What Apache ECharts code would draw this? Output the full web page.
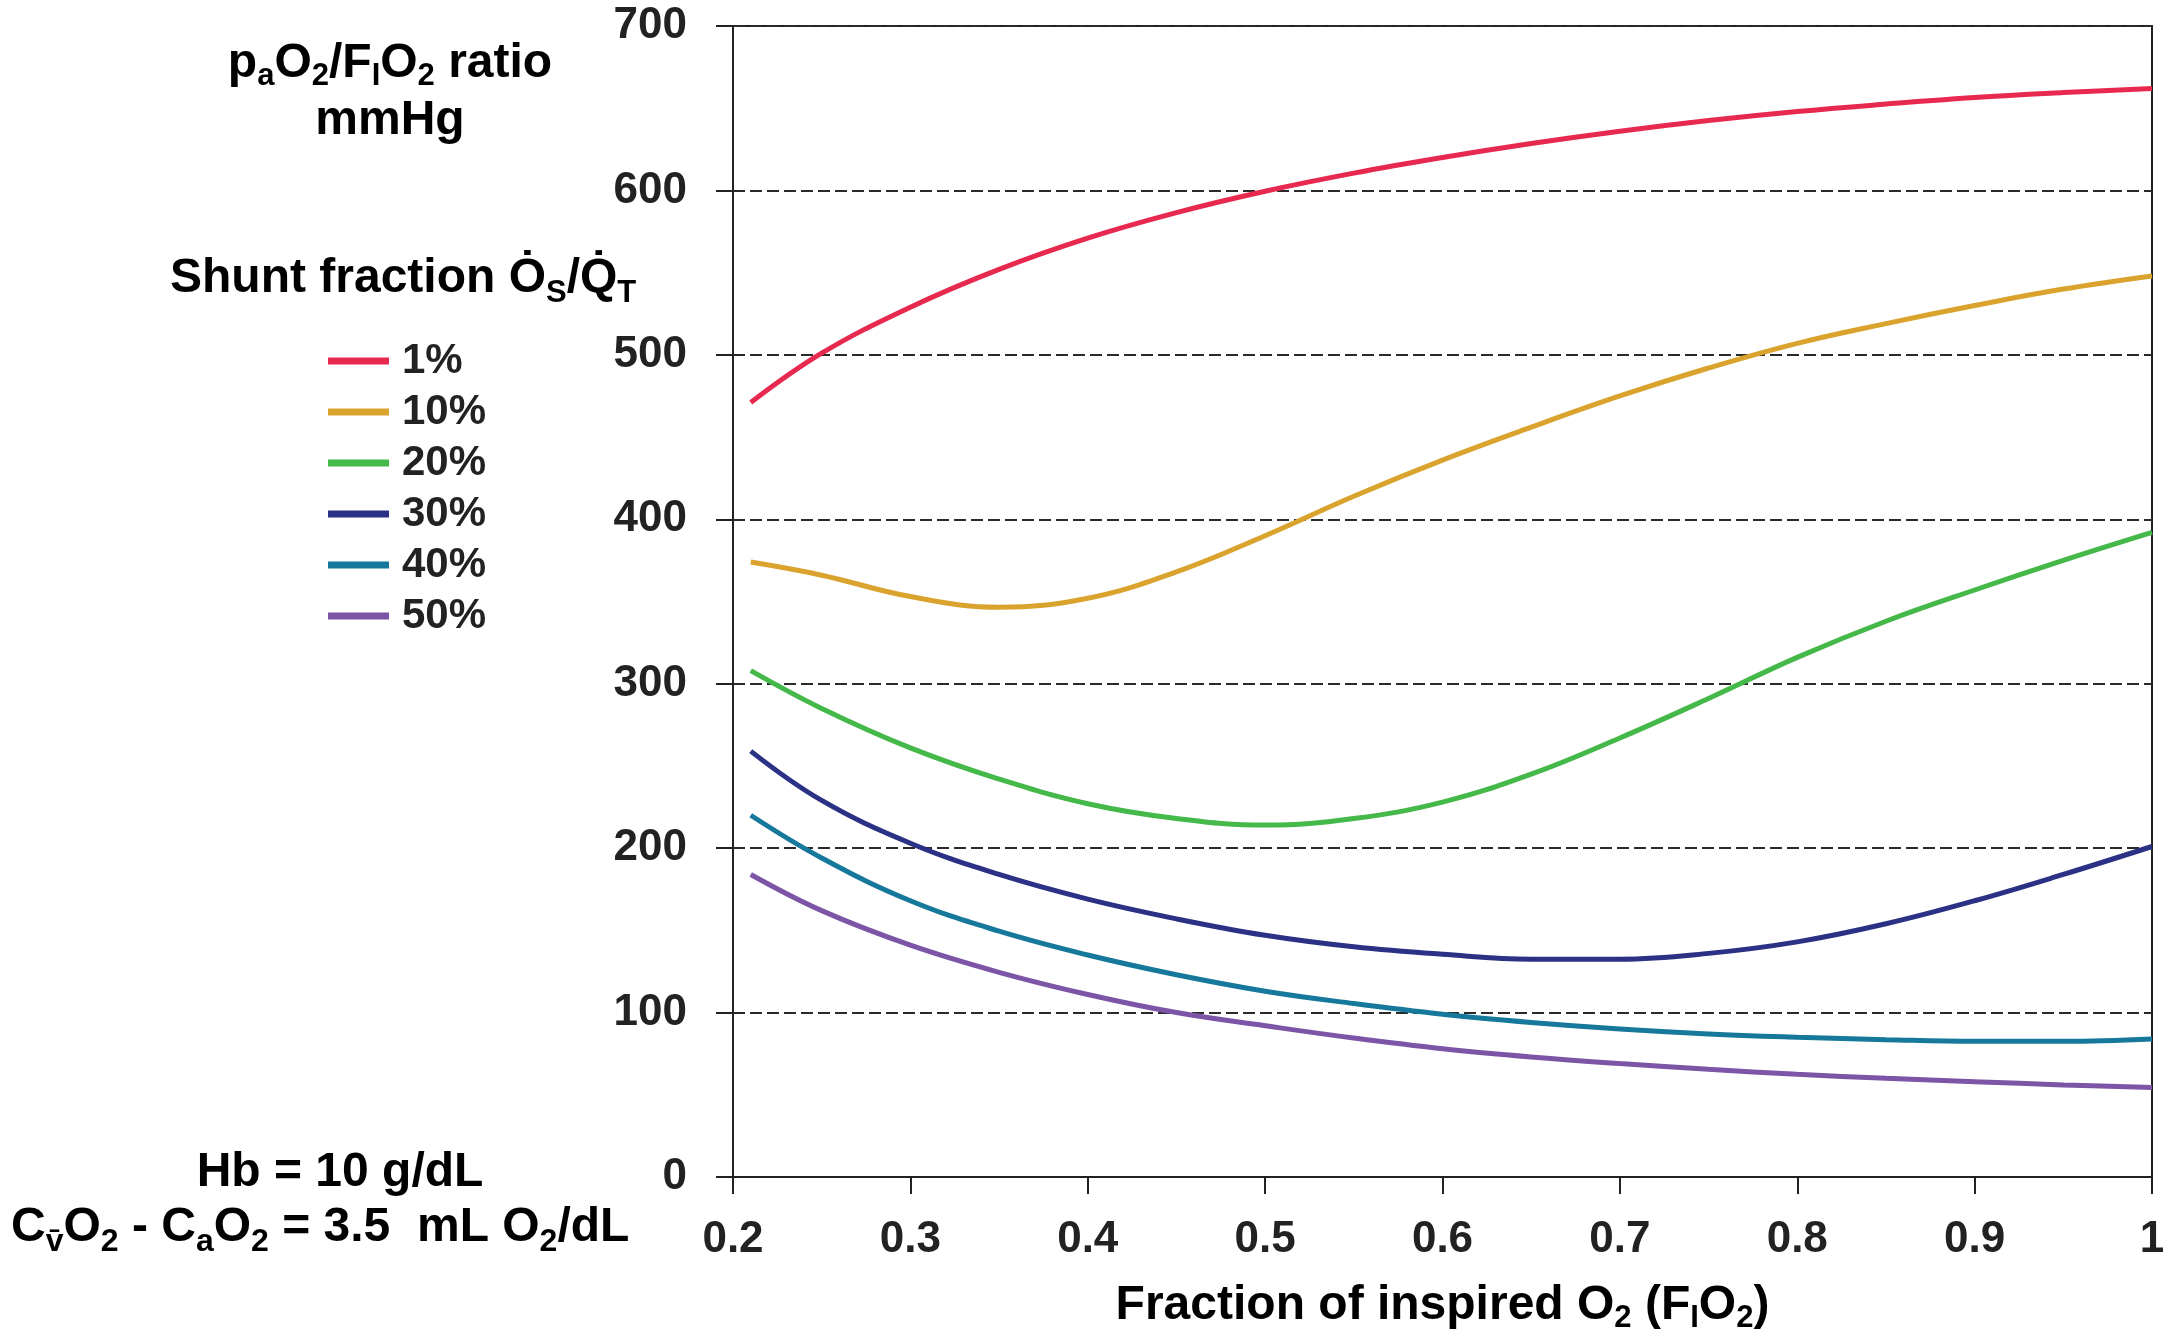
<!DOCTYPE html>
<html>
<head>
<meta charset="utf-8">
<title>PaO2/FIO2 ratio vs FIO2</title>
<script src="https://cdn.jsdelivr.net/npm/echarts@6/dist/echarts.min.js"></script>
<style>
  html, body { margin: 0; padding: 0; background: #fff; }
  #chart { width: 2164px; height: 1333px; }
</style>
</head>
<body>
<div id="chart"></div>
<script>
// FIO2 (x) and PaO2/FIO2 ratio (mmHg) per shunt fraction
const fio2 = [0.21, 0.25, 0.3, 0.35, 0.4, 0.45, 0.5, 0.55, 0.6, 0.65, 0.7, 0.75, 0.8, 0.85, 0.9, 0.95, 1.0]
const shunt1 = [471, 501, 529, 552, 571, 586.5, 599.5, 610.5, 620, 628.5, 636, 642.5, 648, 652.5, 656.5, 659.5, 662]
const shunt10 = [374, 366, 353, 346.5, 352, 368, 390, 414, 436, 456, 475, 492, 507, 519, 530, 540, 548]
const shunt20 = [308, 285, 261, 242, 227, 218, 214, 218, 228, 245, 267, 291, 316, 338, 357, 375, 392]
const shunt30 = [259, 229, 203, 184, 169, 157, 147, 140, 135.5, 132.5, 132.5, 136, 143, 154, 168, 184, 201]
const shunt40 = [220, 194, 168, 149.5, 135, 123, 113, 105.5, 99, 94, 90, 87, 85, 83.5, 82.5, 82.5, 84]
const shunt50 = [184, 162, 141, 124.5, 111, 100, 92, 84.5, 78, 73, 69, 65.5, 62.5, 60, 58, 56, 54.5]
const seriesNames = ['1%', '10%', '20%', '30%', '40%', '50%']
const seriesColors = ['#e8294f', '#d9a32e', '#45b84a', '#2b3185', '#16789b', '#7c55a7']
const yTicks = [0, 100, 200, 300, 400, 500, 600, 700]

const FONT = "'Liberation Sans', Arial, sans-serif"
const NARROW = "'Liberation Sans Narrow', 'Arial Narrow', 'Liberation Sans', Arial, sans-serif"

// rich text styles: normal + subscript
function richStyle (size, sub, family, lh) {
  return {
    n: { fontSize: size, fontWeight: 'bold', fontFamily: family, color: '#000', lineHeight: lh },
    s: { fontSize: sub, fontWeight: 'bold', fontFamily: family, color: '#000', verticalAlign: 'bottom', lineHeight: sub }
  }
}

const allValues = [shunt1, shunt10, shunt20, shunt30, shunt40, shunt50]

const chart = echarts.init(document.getElementById('chart'))
const option = {
  backgroundColor: '#fff',
  animation: false,
  grid: {
    left: 733,
    top: 26,
    right: 12,
    bottom: 156,
    outerBoundsMode: 'none',
    show: true,
    borderColor: '#222',
    borderWidth: 2
  },
  legend: {
    orient: 'vertical',
    left: 323,
    top: 334,
    icon: 'rect',
    itemWidth: 61,
    itemHeight: 7,
    itemGap: 7,
    data: seriesNames,
    textStyle: {
      fontSize: 42,
      fontWeight: 'bold',
      fontFamily: FONT,
      color: '#222',
      lineHeight: 44,
      padding: [0, 0, 0, 8]
    }
  },
  xAxis: {
    type: 'value',
    min: 0.2,
    max: 1,
    interval: 0.1,
    name: '{n|Fraction of inspired O}{s|2}{n| (F}{s|I}{n|O}{s|2}{n|)}',
    nameLocation: 'middle',
    nameGap: 101,
    nameTextStyle: { rich: richStyle(48, 31, NARROW, 56) },
    axisLine: { lineStyle: { color: '#222', width: 2 } },
    axisTick: { inside: false, length: 17, lineStyle: { color: '#222', width: 2 } },
    axisLabel: {
      margin: 41,
      fontSize: 44,
      fontWeight: 'bold',
      fontFamily: FONT,
      color: '#222',
      formatter: v => String(Math.round(v * 10) / 10)
    },
    splitLine: { show: false }
  },
  yAxis: {
    type: 'value',
    min: yTicks[0],
    max: yTicks[yTicks.length - 1],
    interval: 100,
    axisLine: { show: true, lineStyle: { color: '#222', width: 2 } },
    axisTick: { show: true, inside: false, length: 17, lineStyle: { color: '#222', width: 2 } },
    axisLabel: {
      margin: 46,
      fontSize: 44,
      fontWeight: 'bold',
      fontFamily: FONT,
      color: '#222'
    },
    splitLine: {
      show: true,
      lineStyle: { color: '#2a2a2a', width: 2, type: [12, 5] }
    }
  },
  series: seriesNames.map((name, i) => ({
    name: name,
    type: 'line',
    smooth: 0.4,
    symbol: 'none',
    color: seriesColors[i],
    lineStyle: { width: 5, color: seriesColors[i] },
    data: fio2.map((x, j) => [x, allValues[i][j]])
  })),
  graphic: [
    {
      type: 'text',
      x: 390,
      y: 35,
      style: {
        text: '{n|p}{s|a}{n|O}{s|2}{n|/F}{s|I}{n|O}{s|2}{n| ratio}\n{n|mmHg}',
        align: 'center',
        verticalAlign: 'top',
        rich: richStyle(48, 31, FONT, 57)
      }
    },
    {
      type: 'text',
      x: 170,
      y: 249,
      style: {
        text: '{n|Shunt fraction \u022E}{s|S}{n|/Q\u0307}{s|T}',
        align: 'left',
        verticalAlign: 'top',
        rich: richStyle(48, 31, FONT, 60)
      }
    },
    {
      type: 'text',
      x: 340,
      y: 1143,
      style: {
        text: '{n|Hb = 10 g/dL}',
        align: 'center',
        verticalAlign: 'top',
        rich: richStyle(48, 32, NARROW, 60)
      }
    },
    {
      type: 'text',
      x: 11,
      y: 1198,
      style: {
        text: '{n|C}{s|v\u0304}{n|O}{s|2}{n| - C}{s|a}{n|O}{s|2}{n| = 3.5  mL O}{s|2}{n|/dL}',
        align: 'left',
        verticalAlign: 'top',
        rich: richStyle(48, 32, NARROW, 60)
      }
    }
  ]
}
chart.setOption(option)
window.addEventListener('resize', function () {
  chart.resize()
})
</script>
</body>
</html>
